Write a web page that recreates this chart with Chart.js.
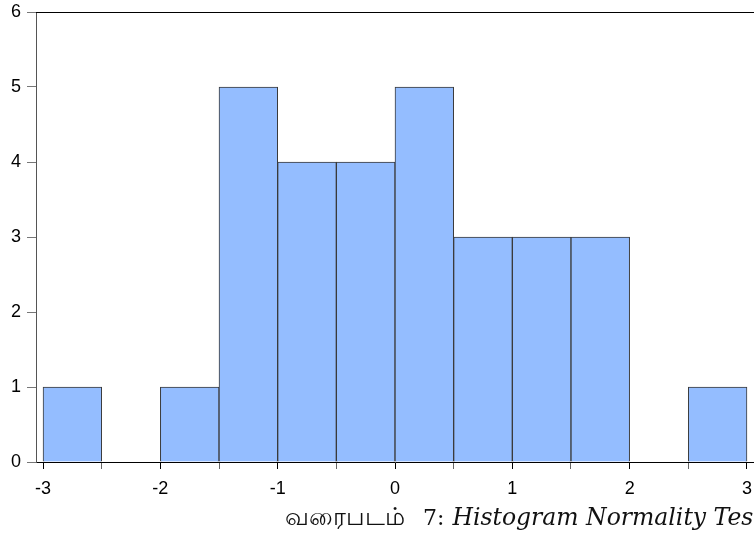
<!DOCTYPE html>
<html lang="ta">

<head>
  <meta charset="UTF-8">
  <title>Histogram</title>
  <style>
    html, body { margin: 0; padding: 0; background: #fff; overflow: hidden; }
    #wrap { position: relative; width: 754px; height: 540px; overflow: hidden; }
    #caption {
      position: absolute; left: 285px; top: 503px; white-space: nowrap; color: #111;
      font-family: "DejaVu Serif", serif; font-size: 22px;
    }
    #caption .ta { font-family: "Liberation Serif", serif; font-size: 25px; margin-right: 18px; }
    #caption i { font-style: italic; font-size: 23.5px; margin-left: 1px; }
  </style>
</head>

<body>
  <div id="wrap">
    <canvas id="chart" width="754" height="540"></canvas>
    <div id="caption"><span class="ta">வரைபடம்</span>7: <i>Histogram Normality Test</i></div>
  </div>

  <script src="https://cdn.jsdelivr.net/npm/chart.js@4/dist/chart.umd.min.js"></script>

  <script>
    // bin centres (width 0.5) and counts
    const binCenters = [-2.75, -2.25, -1.75, -1.25, -0.75, -0.25, 0.25, 0.75, 1.25, 1.75, 2.25, 2.75]
    const counts = [1, 0, 1, 5, 4, 4, 5, 3, 3, 3, 0, 1]
    const xTicks = [-3, -2.5, -2, -1.5, -1, -0.5, 0, 0.5, 1, 1.5, 2, 2.5, 3]
    const yTicks = [0, 1, 2, 3, 4, 5, 6]

    const points = []
    binCenters.forEach((c, i) => {
      if (counts[i] > 0) points.push({ x: c, y: counts[i] })
    })

    // black line across the top of the plot
    const frame = {
      id: 'frame',
      afterDraw(chart) {
        const { ctx, chartArea } = chart
        ctx.save()
        ctx.strokeStyle = '#000'
        ctx.lineWidth = 1
        ctx.beginPath()
        ctx.moveTo(chartArea.left, chartArea.top + 0.5)
        ctx.lineTo(chartArea.right, chartArea.top + 0.5)
        ctx.stroke()
        ctx.restore()
      }
    }

    new Chart(document.getElementById('chart').getContext('2d'), {
      type: 'bar',
      data: {
        datasets: [{
          data: points,
          backgroundColor: '#94bdff',
          borderColor: '#3a3a3a',
          borderWidth: 1,
          barPercentage: 1,
          categoryPercentage: 1
        }]
      },
      options: {
        responsive: false,
        animation: false,
        layout: { padding: { top: 12, right: 0, left: 0, bottom: 0 } },
        plugins: { legend: { display: false }, tooltip: { enabled: false } },
        scales: {
          x: {
            type: 'linear',
            offset: false,
            min: -3.06,
            max: 3.06,
            afterBuildTicks: s => { s.ticks = xTicks.map(v => ({ value: v })) },
            afterFit: s => { s.height = 78; s.paddingLeft = 0; s.paddingRight = 0 },
            border: { color: '#000', width: 1 },
            grid: {
              offset: false,
              drawOnChartArea: false,
              drawTicks: true,
              tickLength: 7,
              color: c => Number.isInteger(c.tick.value) ? '#000' : '#666'
            },
            ticks: {
              autoSkip: false,
              maxRotation: 0,
              padding: 9,
              color: '#000',
              font: { family: '"Liberation Sans", Arial, sans-serif', size: 18 },
              callback: v => Number.isInteger(v) ? String(v) : ''
            }
          },
          y: {
            min: 0,
            max: 6,
            afterBuildTicks: s => { s.ticks = yTicks.map(v => ({ value: v })) },
            afterFit: s => { s.width = 36; s.paddingTop = 0; s.paddingBottom = 0 },
            border: { color: '#555', width: 1 },
            grid: {
              drawOnChartArea: false,
              tickLength: 9,
              color: '#777'
            },
            ticks: {
              padding: 6,
              color: '#000',
              font: { family: '"Liberation Sans", Arial, sans-serif', size: 18 }
            }
          }
        }
      },
      plugins: [frame]
    })
  </script>
</body>

</html>
